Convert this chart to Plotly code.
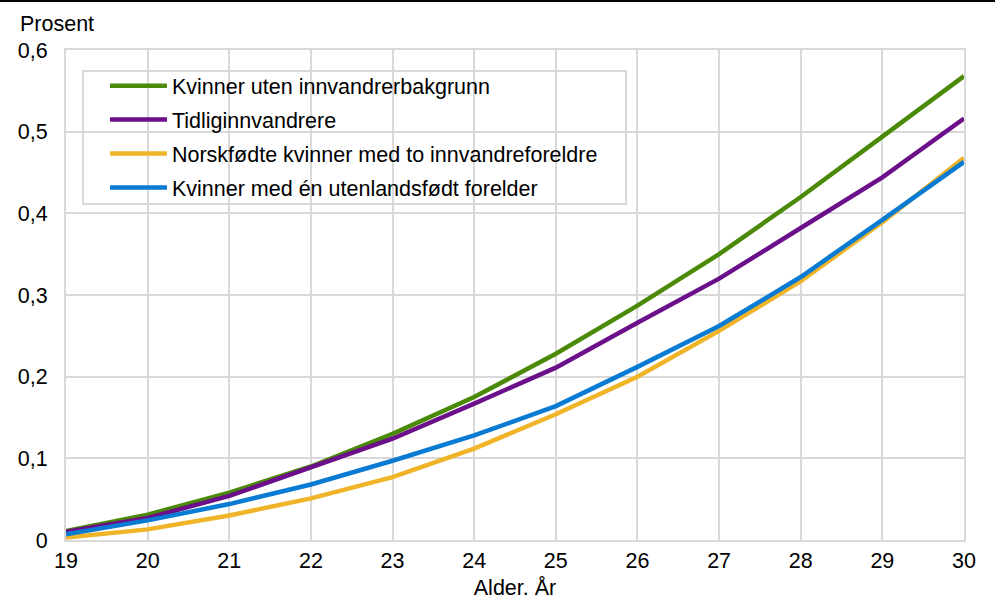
"""Fruktbarhet etter alder."""
import plotly.graph_objects as go

# Data
alder = [19, 20, 21, 22, 23, 24, 25, 26, 27, 28, 29, 30]
uten_bakgrunn = [0.011, 0.031, 0.058, 0.090, 0.130, 0.175, 0.228, 0.287, 0.350, 0.420, 0.494, 0.568]
tidliginnvandrere = [0.010, 0.027, 0.054, 0.089, 0.124, 0.167, 0.211, 0.266, 0.320, 0.382, 0.444, 0.516]
norskfodte = [0.003, 0.013, 0.030, 0.051, 0.077, 0.112, 0.154, 0.200, 0.256, 0.317, 0.389, 0.468]
en_utenlandsfodt = [0.007, 0.024, 0.044, 0.068, 0.097, 0.128, 0.164, 0.212, 0.262, 0.322, 0.392, 0.463]

serier = [
    ("Kvinner uten innvandrerbakgrunn", uten_bakgrunn, "#4a8a08"),
    ("Tidliginnvandrere", tidliginnvandrere, "#6c0f8a"),
    ("Norskfødte kvinner med to innvandreforeldre", norskfodte, "#f0b428"),
    ("Kvinner med én utenlandsfødt forelder", en_utenlandsfodt, "#0a7bd2"),
]

FONT = "Liberation Sans, Arial, sans-serif"
GRID = "#d9d9d9"


def main() -> None:
    fig = go.Figure()
    for i, (navn, verdier, farge) in enumerate(serier):
        fig.add_trace(go.Scatter(x=alder, y=verdier, name=navn, mode="lines",
                                 legendgroup=f"g{i}",
                                 line={"color": farge, "width": 4.5}))

    fig.update_layout(
        width=995, height=608,
        margin={"l": 66, "r": 31, "t": 50, "b": 68},
        paper_bgcolor="white", plot_bgcolor="white",
        separators=", ",
        font={"family": FONT, "size": 21.5, "color": "black"},
        legend={
            "x": 0.0434, "y": 0.969, "xanchor": "left", "yanchor": "top",
            "bgcolor": "rgba(0,0,0,0)", "borderwidth": 0,
            "font": {"size": 21.5},
            "itemwidth": 57, "tracegroupgap": 3,
        },
        xaxis={
            "range": [19, 30], "dtick": 1, "tick0": 19,
            "showgrid": True, "gridcolor": GRID, "gridwidth": 2,
            "showline": True, "linecolor": GRID, "linewidth": 2, "mirror": True,
            "zeroline": False, "ticks": "",
            "title": {"text": "Alder. År", "standoff": 8, "font": {"size": 21.5}},
        },
        yaxis={
            "range": [0, 0.6], "dtick": 0.1,
            "showgrid": True, "gridcolor": GRID, "gridwidth": 2,
            "showline": True, "linecolor": GRID, "linewidth": 2, "mirror": True,
            "zeroline": False, "ticks": "", "ticklabelstandoff": 12,
        },
        annotations=[{
            "text": "Prosent", "xref": "paper", "yref": "paper",
            "x": -0.0535, "y": 1.053, "xanchor": "left", "yanchor": "middle",
            "showarrow": False, "font": {"size": 21.5},
        }],
        shapes=[
            {
                "type": "line", "xref": "paper", "yref": "paper",
                "x0": -0.08, "x1": 1.04, "y0": 1.1, "y1": 1.1,
                "line": {"color": "black", "width": 2},
            },
            {
                # legend frame
                "type": "rect", "xref": "paper", "yref": "paper", "layer": "between",
                "x0": 0.0189, "x1": 0.6236, "y0": 0.6857, "y1": 0.957,
                "fillcolor": "white", "line": {"color": GRID, "width": 2},
            },
        ],
    )

    fig.write_html("out.html", config={"displayModeBar": False},
                   post_script="document.body.style.margin = '0';")


if __name__ == "__main__":
    main()
